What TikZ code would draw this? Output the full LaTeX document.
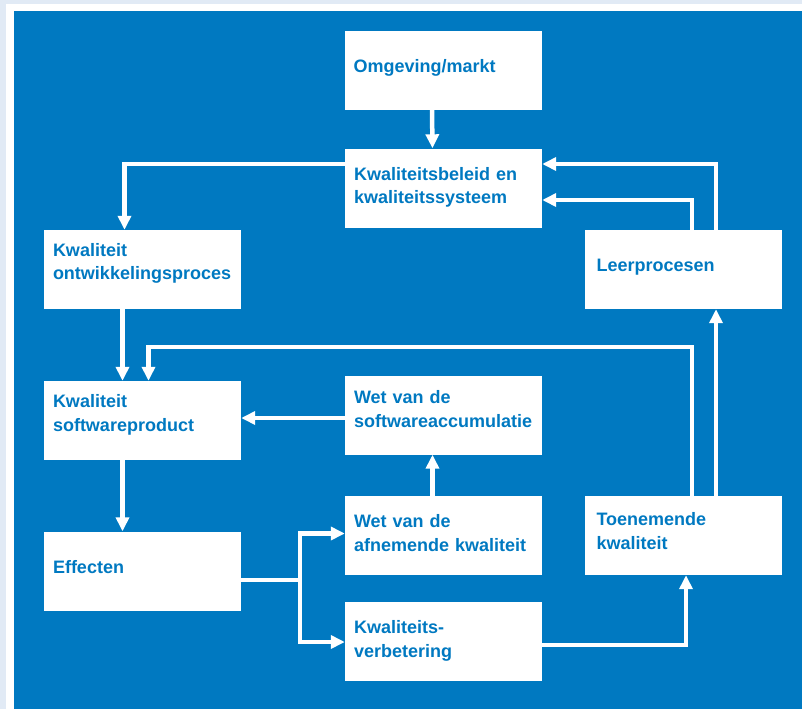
\documentclass[tikz,border=0pt]{standalone}
\usepackage{fontspec}
\setmainfont{Liberation Sans}
\usetikzlibrary{arrows.meta}
\definecolor{kblue}{RGB}{0,121,193}
\definecolor{kframe}{RGB}{225,234,245}
\begin{document}
\begin{tikzpicture}[x=1pt, y=-1pt,
        box/.style={rectangle, fill=white, minimum width=197pt, minimum height=79pt,
            inner xsep=9pt, inner ysep=0pt, text width=179pt, align=left, text=kblue,
            font=\fontsize{18}{23.5}\selectfont\bfseries,
            execute at end node={\rule[-#1pt]{0pt}{#1pt}}},
        box/.default=9,
        wide/.style={inner xsep=12pt, text width=173pt},
        arr/.style={draw=white, line width=4.5pt, line join=miter, -{Triangle[length=14pt, width=13pt]}},
        wire/.style={draw=white, line width=4.5pt, line join=miter}]
        % frame
        \fill[kframe] (0,0) rectangle (802,709);
        \fill[white] (6,4) rectangle (802,709);
        \fill[kblue] (14,11) rectangle (802,709);

        \node[box] (omgeving) at (443,70.5) {Omgeving/markt};
        \node[box=5] (beleid) at (443.5,188) {Kwaliteitsbeleid en\\kwaliteitssysteem};
        \node[box=16] (proces) at (142.5,269.5) {Kwaliteit\\ontwikkelingsproces};
        \node[box, wide] (leer) at (683,269.5) {Leerprocesen};
        \node[box=15] (product) at (142.5,420.5) {Kwaliteit\\softwareproduct};
        \node[box=12] (accumulatie) at (443.5,415) {Wet van de\\softwareaccumulatie};
        \node[box] (effecten) at (142.5,571) {Effecten};
        \node[box=5] (afnemend) at (443.5,535.5) {Wet van de\\afnemende kwaliteit};
        \node[box=9, wide] (toenemend) at (683,535.5) {Toenemende\\kwaliteit};
        \node[box=4] (verbetering) at (443.5,641) {Kwaliteits-\\verbetering};

        \draw[arr] ([xshift=-11]omgeving.south) -- ([xshift=-11]beleid.north);
        \draw[arr] ([yshift=24]beleid.west) -| ([xshift=-18]proces.north);
        \draw[arr] ([xshift=33]leer.north) |- ([yshift=24]beleid.east);
        \draw[arr] ([xshift=9]leer.north) |- ([yshift=-12]beleid.east);
        \draw[arr] ([xshift=-20]proces.south) -- ([xshift=-20]product.north);
        \draw[arr] ([xshift=9]toenemend.north) |- ([xshift=6,yshift=34]product.north) -- ([xshift=6]product.north);
        \draw[arr] ([xshift=33]toenemend.north) -- ([xshift=33]leer.south);
        \coordinate (a1) at ([yshift=-3]accumulatie.west);
        \draw[arr] (a1) -- (a1 -| product.east);
        \draw[arr] ([xshift=-20]product.south) -- ([xshift=-20]effecten.north);
        \draw[wire] ([yshift=-9]effecten.east) -- ++(59,0) coordinate (split);
        \draw[arr] (split) |- ([yshift=2]afnemend.west);
        \draw[arr] (split) |- ([yshift=-1]verbetering.west);
        \draw[arr] ([xshift=-11]afnemend.north) -- ([xshift=-11]accumulatie.south);
        \draw[arr] ([yshift=-4]verbetering.east) -| ([xshift=3]toenemend.south);
    \end{tikzpicture}
\end{document}
